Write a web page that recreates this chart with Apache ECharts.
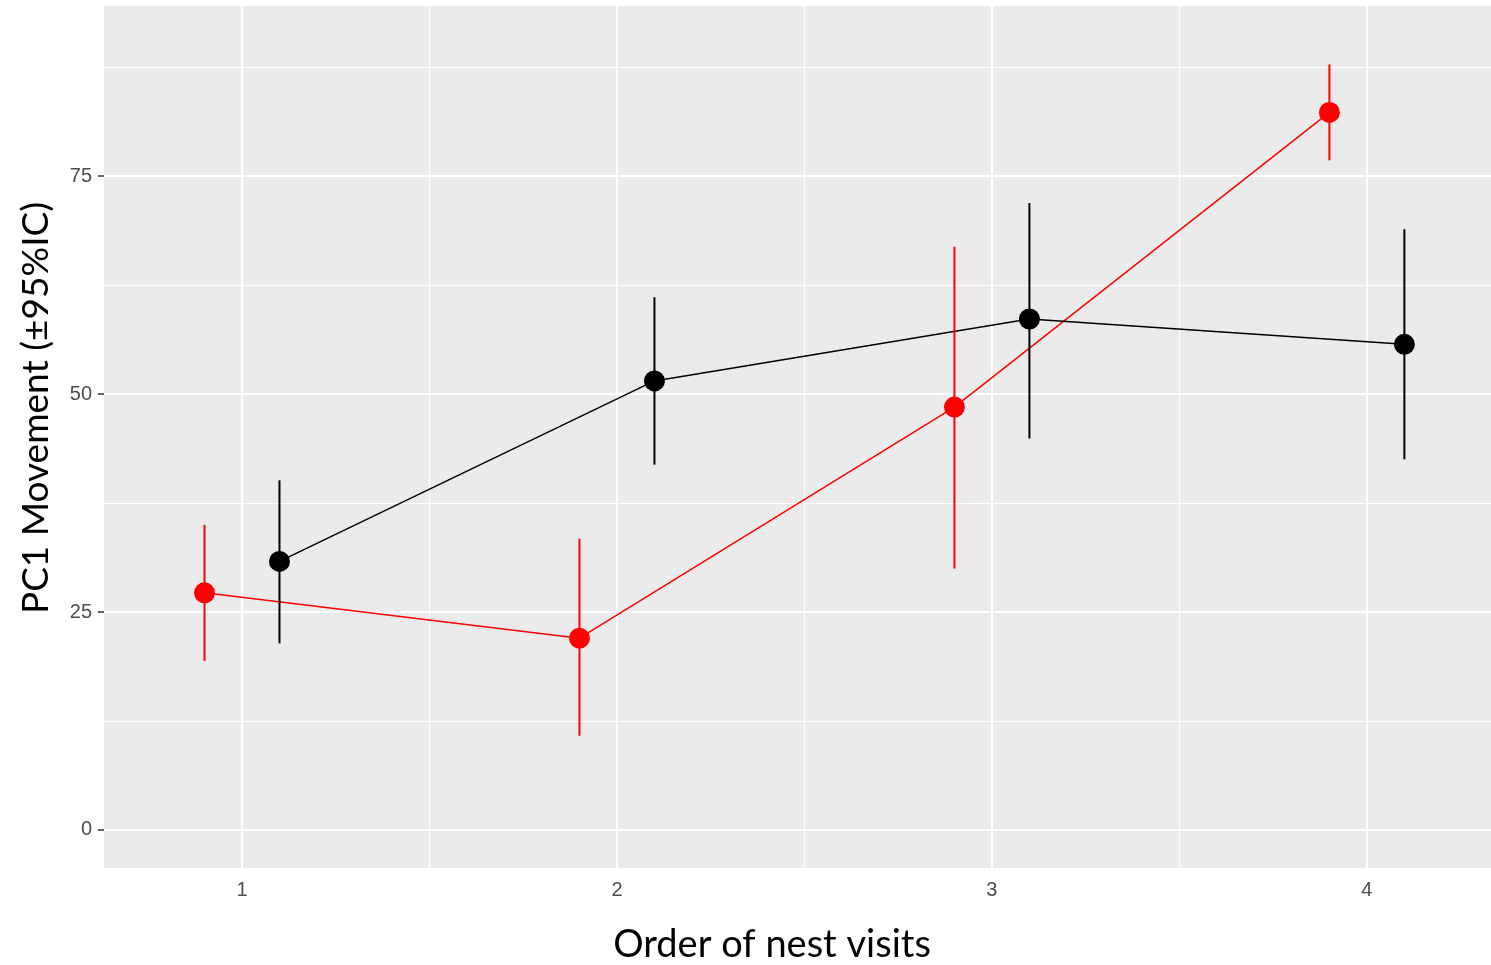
<!DOCTYPE html>
<html>
<head>
<meta charset="utf-8">
<script src="https://cdn.jsdelivr.net/npm/echarts@6/dist/echarts.min.js"></script>
<style>
html,body{margin:0;padding:0;background:#fff;}
#chart{width:1491px;height:965px;}
</style>
</head>
<body>
<div id="chart"></div>
<script>
// ---- data ----
var visits = [1, 2, 3, 4];
var dodge = 0.1;
var redMean  = [27.2, 22.0, 48.5, 82.3];
var redLow   = [19.4, 10.8, 30.0, 76.8];
var redHigh  = [35.0, 33.4, 66.9, 87.8];
var blackMean = [30.8, 51.5, 58.6, 55.7];
var blackLow  = [21.4, 41.9, 44.9, 42.5];
var blackHigh = [40.1, 61.1, 71.9, 68.9];
var xTicks = [1, 2, 3, 4];
var xMinor = [1.5, 2.5, 3.5];
var yTicks = [0, 25, 50, 75];
var yMinor = [12.5, 37.5, 62.5, 87.5];

var xTitle = 'Order of nest visits';
var yTitle = 'PC1 Movement (±95%IC)';

// ---- build ----
function pts(mean, off) {
  return visits.map(function (v, i) { return [v + off, mean[i]]; });
}
function bars(lo, hi, off) {
  return visits.map(function (v, i) { return [v + off, lo[i], hi[i]]; });
}
function errRender(color) {
  return function (params, api) {
    var x = api.value(0);
    var p1 = api.coord([x, api.value(1)]);
    var p2 = api.coord([x, api.value(2)]);
    return {
      type: 'line',
      shape: { x1: p1[0], y1: p1[1], x2: p2[0], y2: p2[1] },
      style: { stroke: color, lineWidth: 2 }
    };
  };
}
var gridLines = []
  .concat(xMinor.map(function (v) { return { xAxis: v, lineStyle: { width: 1.2 } }; }))
  .concat(yMinor.map(function (v) { return { yAxis: v, lineStyle: { width: 1.2 } }; }))
  .concat(xTicks.map(function (v) { return { xAxis: v, lineStyle: { width: 2 } }; }))
  .concat(yTicks.map(function (v) { return { yAxis: v, lineStyle: { width: 2 } }; }));

var chart = echarts.init(document.getElementById('chart'));
chart.setOption({
  animation: false,
  backgroundColor: '#ffffff',
  grid: { left: 104, top: 6, right: 0, bottom: 97, show: true, backgroundColor: '#EBEBEB', borderWidth: 0 },
  xAxis: {
    type: 'value', min: 0.632, max: 4.331,
    axisLine: { show: false },
    splitLine: { show: false },
    axisTick: { show: true, customValues: xTicks, length: 6, lineStyle: { color: '#333333', width: 1.5 } },
    axisLabel: { customValues: xTicks, margin: 12, color: '#4D4D4D', fontSize: 20, fontFamily: 'Liberation Sans, Arial, sans-serif' }
  },
  yAxis: {
    type: 'value', min: -4.36, max: 94.5,
    axisLine: { show: false },
    splitLine: { show: false },
    axisTick: { show: true, customValues: yTicks, length: 6, lineStyle: { color: '#333333', width: 1.5 } },
    axisLabel: { customValues: yTicks, margin: 12, color: '#4D4D4D', fontSize: 20, fontFamily: 'Liberation Sans, Arial, sans-serif' }
  },
  graphic: [
    { type: 'text', x: 772, y: 945,
      style: { text: xTitle, fill: '#000', font: '38px Lato, "Open Sans", sans-serif', textAlign: 'center', textVerticalAlign: 'middle' } },
    { type: 'text', x: 36, y: 408, rotation: Math.PI / 2,
      style: { text: yTitle, fill: '#000', font: '37px Lato, "Open Sans", sans-serif', textAlign: 'center', textVerticalAlign: 'middle' } }
  ],
  series: [
    { type: 'line', data: [], z: 1, silent: true,
      markLine: { z: 1, silent: true, symbol: 'none', label: { show: false }, lineStyle: { color: '#ffffff', type: 'solid' }, data: gridLines, animation: false } },
    { type: 'line', data: pts(redMean, -dodge), showSymbol: false, z: 10, lineStyle: { color: '#FF0000', width: 1.5 } },
    { type: 'line', data: pts(blackMean, dodge), showSymbol: false, z: 10, lineStyle: { color: '#000000', width: 1.5 } },
    { type: 'custom', data: bars(redLow, redHigh, -dodge), z: 11, renderItem: errRender('#FF0000'), encode: { x: 0, y: [1, 2] } },
    { type: 'custom', data: bars(blackLow, blackHigh, dodge), z: 11, renderItem: errRender('#000000'), encode: { x: 0, y: [1, 2] } },
    { type: 'scatter', data: pts(redMean, -dodge), z: 12, symbol: 'circle', symbolSize: 21, itemStyle: { color: '#FF0000', opacity: 1 } },
    { type: 'scatter', data: pts(blackMean, dodge), z: 12, symbol: 'circle', symbolSize: 21, itemStyle: { color: '#000000', opacity: 1 } }
  ]
});
</script>
</body>
</html>
